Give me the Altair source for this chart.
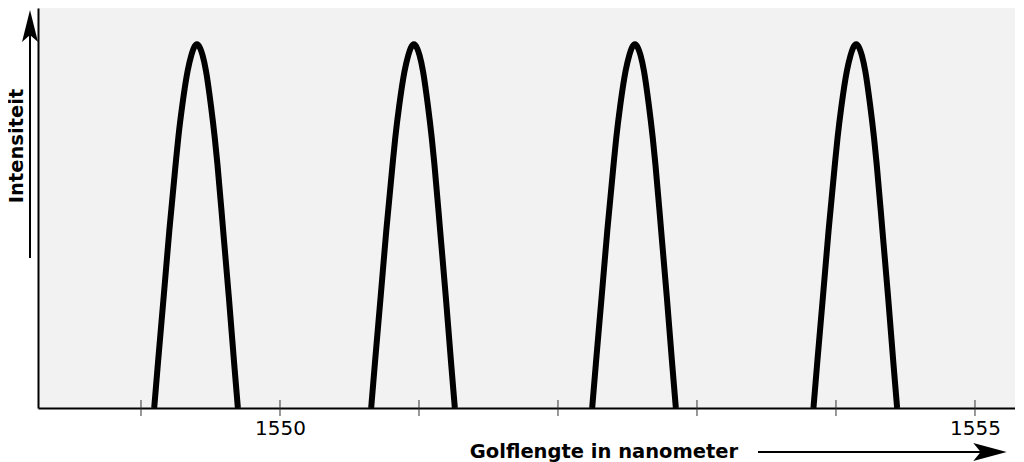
import altair as alt
import pandas as pd

# ---- data ----
tick_values = [1549, 1550, 1551, 1552, 1553, 1554, 1555]
label_values = [1550, 1555]

# shared intensity samples along each peak (base -> apex -> base)
intensity = [0.0, 0.124, 0.305, 0.489, 0.670, 0.742, 0.832, 0.926, 0.970, 0.989, 1.0,
             0.989, 0.970, 0.926, 0.832, 0.742, 0.670, 0.489, 0.305, 0.124, 0.0]

peak1_wl = [1549.095, 1549.122, 1549.163, 1549.204, 1549.249, 1549.268, 1549.297, 1549.335, 1549.362, 1549.3785, 1549.403,
            1549.426, 1549.443, 1549.468, 1549.503, 1549.531, 1549.550, 1549.591, 1549.632, 1549.670, 1549.697]
peak2_wl = [1550.656, 1550.683, 1550.724, 1550.765, 1550.810, 1550.829, 1550.858, 1550.896, 1550.923, 1550.9395, 1550.964,
            1550.987, 1551.004, 1551.029, 1551.064, 1551.092, 1551.111, 1551.152, 1551.193, 1551.231, 1551.258]
peak3_wl = [1552.246, 1552.273, 1552.314, 1552.355, 1552.400, 1552.419, 1552.448, 1552.486, 1552.513, 1552.5295, 1552.554,
            1552.577, 1552.594, 1552.619, 1552.654, 1552.682, 1552.701, 1552.742, 1552.783, 1552.821, 1552.848]
peak4_wl = [1553.838, 1553.865, 1553.906, 1553.947, 1553.992, 1554.011, 1554.040, 1554.078, 1554.105, 1554.1215, 1554.146,
            1554.169, 1554.186, 1554.211, 1554.246, 1554.274, 1554.293, 1554.334, 1554.375, 1554.413, 1554.440]

x_domain = [1548.259, 1555.288]
y_domain = [0, 1.1]

y_title = "Intensiteit"
x_title = "Golflengte in nanometer"

# ---- build table ----
rows = []
for pid, wls in enumerate([peak1_wl, peak2_wl, peak3_wl, peak4_wl], start=1):
    for k, (w, i) in enumerate(zip(wls, intensity)):
        rows.append({"peak": pid, "k": k, "wl": w, "I": i})
df = pd.DataFrame(rows)
ticks_df = pd.DataFrame({"wl": tick_values})

FONT = "DejaVu Sans"
xscale = alt.Scale(domain=x_domain, nice=False, zero=False)
yscale = alt.Scale(domain=y_domain, nice=False, zero=False)


def x_axis():
    return alt.Axis(values=label_values, format="d", title=None, ticks=False, grid=False,
                    labelPadding=10, labelFontSize=20, labelFont=FONT, labelColor="black",
                    domainColor="black", domainWidth=2)


lines = alt.Chart(df).mark_line(
    color="black", strokeWidth=6, interpolate="monotone", strokeCap="butt", strokeJoin="round"
).encode(
    x=alt.X("wl:Q", scale=xscale, axis=x_axis()),
    y=alt.Y("I:Q", scale=yscale,
            axis=alt.Axis(title=None, labels=False, ticks=False, grid=False,
                          domainColor="black", domainWidth=2)),
    detail="peak:N",
    order="k:Q",
)

tick_marks = alt.Chart(ticks_df).mark_rule(color="#333333", strokeWidth=1).encode(
    x=alt.X("wl:Q", scale=xscale, axis=x_axis()),
    y=alt.value(392),
    y2=alt.value(408),
)

ytxt = alt.Chart(pd.DataFrame({"t": [y_title]})).mark_text(
    angle=270, font=FONT, fontSize=19.5, fontWeight="bold", color="black",
    align="center", baseline="middle"
).encode(x=alt.value(-21), y=alt.value(138), text="t:N")

xtxt = alt.Chart(pd.DataFrame({"t": [x_title]})).mark_text(
    font=FONT, fontSize=19.5, fontWeight="bold", color="black",
    align="center", baseline="middle"
).encode(x=alt.value(566), y=alt.value(444), text="t:N")

one = pd.DataFrame({"a": [0]})
v_shaft = alt.Chart(one).mark_rule(color="black", strokeWidth=2).encode(
    x=alt.value(-8), y=alt.value(250), y2=alt.value(22))
v_head = alt.Chart(one).mark_point(
    shape="M0,-1L0.5,1L0,0.56L-0.5,1Z", filled=True, fill="black", opacity=1,
    strokeWidth=0, size=1024
).encode(x=alt.value(-8), y=alt.value(18))

h_shaft = alt.Chart(one).mark_rule(color="black", strokeWidth=2).encode(
    x=alt.value(720), x2=alt.value(946), y=alt.value(444))
h_head = alt.Chart(one).mark_point(
    shape="M1,0L-1,0.54L-0.56,0L-1,-0.54Z", filled=True, fill="black", opacity=1,
    strokeWidth=0, size=1115
).encode(x=alt.value(952), y=alt.value(444))

chart = alt.layer(
    lines, tick_marks, ytxt, xtxt, v_shaft, v_head, h_shaft, h_head
).properties(
    width=977, height=400,
    autosize=alt.AutoSizeParams(type="none"),
    padding={"left": 30, "top": 0, "right": 0, "bottom": 54},
).configure_view(
    fill="#f2f2f2", stroke=None, strokeWidth=0
)

chart.save("out.html", embed_options={"renderer": "svg", "actions": False})
